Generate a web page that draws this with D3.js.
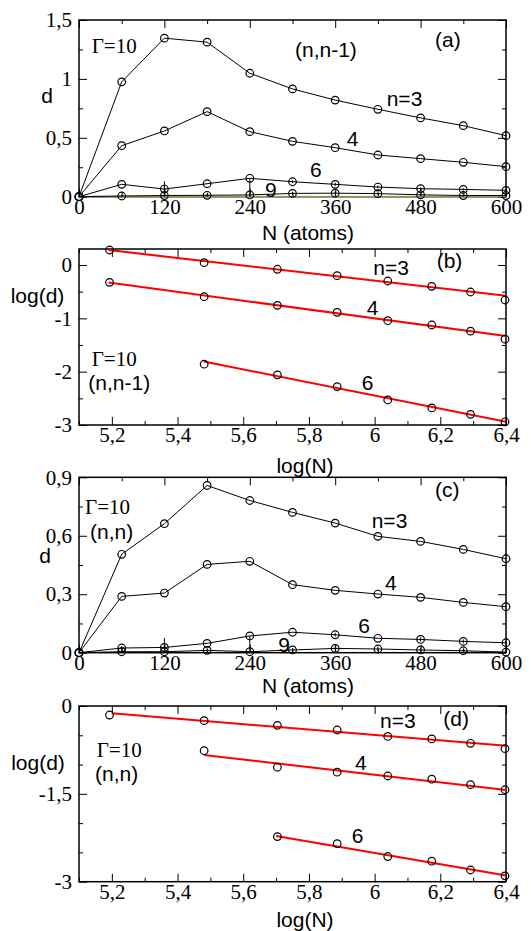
<!DOCTYPE html>
<html>
<head>
<meta charset="utf-8">
<script src="https://cdn.jsdelivr.net/npm/d3@7"></script>
<style>
  body { margin: 0; background: #fff; }
</style>
</head>
<body>
<script>
// data
const N = [0, 60, 120, 180, 240, 300, 360, 420, 480, 540, 600];

// panel (a) : (n,n-1)
const a3 = [0, 0.975, 1.346, 1.312, 1.048, 0.915, 0.82, 0.742, 0.669, 0.603, 0.518];
const a4 = [0, 0.433, 0.558, 0.722, 0.552, 0.47, 0.416, 0.354, 0.323, 0.292, 0.255];
const a6 = [0, 0.105, 0.065, 0.11, 0.156, 0.127, 0.105, 0.082, 0.068, 0.062, 0.054];
const a6err = [0, 0, 0.008, 0, 0, 0.012, 0.014, 0.012, 0.012, 0.01, 0.01];
const a9 = [0, 0.006, 0.01, 0.012, 0.015, 0.028, 0.03, 0.026, 0.016, 0.01, 0.01];
const a9err = [0, 0.01, 0.12, 0.012, 0.14, 0.014, 0.014, 0.012, 0.012, 0.01, 0.01];
const a12 = [0, 0, 0, 0, 0, 0, 0, 0, 0, 0, 0];

// panel (c) : (n,n)
const c3 = [0, 0.505, 0.662, 0.858, 0.781, 0.72, 0.665, 0.597, 0.571, 0.53, 0.482];
const c4 = [0, 0.289, 0.306, 0.453, 0.469, 0.349, 0.32, 0.301, 0.284, 0.258, 0.236];
const c6 = [0, 0.024, 0.027, 0.048, 0.086, 0.105, 0.092, 0.074, 0.068, 0.058, 0.051];
const c6err = [0, 0.01, 0.01, 0, 0, 0, 0.01, 0, 0.01, 0.01, 0.01];
const c9 = [0, 0.005, 0.005, 0.012, 0.005, 0.014, 0.022, 0.019, 0.014, 0.01, 0.003];
const c9err = [0, 0.01, 0.07, 0.01, 0.08, 0.01, 0.012, 0.012, 0.012, 0.012, 0.01];

// panels (b) and (d) : log(d) vs log(N)
const lnN = [5.193, 5.481, 5.704, 5.886, 6.040, 6.174, 6.292, 6.397];
const b3 = [0.281, 0.044, -0.08, -0.2, -0.3, -0.4, -0.506, -0.656];
const b4 = [-0.325, -0.594, -0.757, -0.888, -1.044, -1.125, -1.24, -1.39];
const b6 = [null, -1.86, -2.06, -2.28, -2.53, -2.68, -2.80, -2.94];
const fitB3 = [[5.19, 0.28], [6.4, -0.575]];
const fitB4 = [[5.19, -0.33], [6.4, -1.33]];
const fitB6 = [[5.48, -1.81], [6.4, -2.94]];

const d3v = [-0.154, -0.25, -0.33, -0.41, -0.52, -0.563, -0.637, -0.728];
const d4v = [null, -0.763, -1.046, -1.13, -1.195, -1.25, -1.343, -1.43];
const d6v = [null, null, -2.23, -2.35, -2.57, -2.65, -2.80, -2.90];
const fitD3 = [[5.2, -0.125], [6.4, -0.677]];
const fitD4 = [[5.48, -0.836], [6.4, -1.433]];
const fitD6 = [[5.70, -2.22], [6.4, -2.896]];

// ticks
const nMajor = [0, 120, 240, 360, 480, 600];
const nMinor = [60, 180, 300, 420, 540];
const logNMajor = [5.2, 5.4, 5.6, 5.8, 6, 6.2, 6.4];
const logNMinor = [5.1, 5.3, 5.5, 5.7, 5.9, 6.1, 6.3];

const width = 531;
const height = 931;
const left = 79, right = 506;

const svg = d3.select("body").append("svg")
    .attr("width", width)
    .attr("height", height);

svg.append("rect").attr("width", width).attr("height", height).attr("fill", "#fff");

const serif = "'Liberation Serif', 'Times New Roman', serif";
const sans = "'Liberation Sans', Arial, sans-serif";
const fmt = d => String(d).replace(".", ",");

function panel(cfg) {
    const x = d3.scaleLinear().domain(cfg.xDomain).range([left, right]);
    const y = d3.scaleLinear().domain(cfg.yDomain).range([cfg.bottom, cfg.top]);
    const g = svg.append("g");

    // ticks, all pointing inwards, on four sides
    const axes = [
        [d3.axisBottom(x).tickValues(cfg.xMajor).tickFormat(fmt).tickSize(-8).tickPadding(2), cfg.bottom, "x"],
        [d3.axisBottom(x).tickValues(cfg.xMinor).tickFormat("").tickSize(-4), cfg.bottom, "x"],
        [d3.axisTop(x).tickValues(cfg.xMajor).tickFormat("").tickSize(-8), cfg.top, "x"],
        [d3.axisTop(x).tickValues(cfg.xMinor).tickFormat("").tickSize(-4), cfg.top, "x"],
        [d3.axisLeft(y).tickValues(cfg.yMajor).tickFormat(fmt).tickSize(-8).tickPadding(7), left, "y"],
        [d3.axisLeft(y).tickValues(cfg.yMinor).tickFormat("").tickSize(-4), left, "y"],
        [d3.axisRight(y).tickValues(cfg.yMajor).tickFormat("").tickSize(-8), right, "y"],
        [d3.axisRight(y).tickValues(cfg.yMinor).tickFormat("").tickSize(-4), right, "y"]
    ];
    axes.forEach(([ax, pos, dir]) => {
        const ag = g.append("g")
            .attr("transform", dir === "x" ? "translate(0," + pos + ")" : "translate(" + pos + ",0)")
            .call(ax.tickSizeOuter(0));
        ag.select(".domain").remove();
        ag.selectAll("line").attr("stroke", "#000").attr("stroke-width", 1);
        ag.selectAll("text")
            .attr("fill", "#000")
            .style("font-family", serif)
            .style("font-size", "21px");
    });

    // frame
    g.append("rect")
        .attr("x", left).attr("y", cfg.top)
        .attr("width", right - left).attr("height", cfg.bottom - cfg.top)
        .attr("fill", "none").attr("stroke", "#000").attr("stroke-width", 1.5);

    return { x, y, g };
}

function series(p, xs, ys, errs, color) {
    const pts = xs.map((v, i) => ({ x: v, y: ys[i], e: errs ? errs[i] : 0 })).filter(d => d.y !== null);
    const line = d3.line().x(d => p.x(d.x)).y(d => p.y(d.y));
    p.g.append("path").datum(pts)
        .attr("d", line).attr("fill", "none")
        .attr("stroke", color || "#000").attr("stroke-width", 1);
    if (errs) {
        p.g.selectAll(null).data(pts.filter(d => d.e > 0)).enter().append("line")
            .attr("x1", d => p.x(d.x)).attr("x2", d => p.x(d.x))
            .attr("y1", d => p.y(d.y + d.e)).attr("y2", d => p.y(Math.max(0, d.y - d.e)))
            .attr("stroke", "#000").attr("stroke-width", 1);
    }
    return pts;
}

function markers(p, pts) {
    p.g.selectAll(null).data(pts).enter().append("circle")
        .attr("cx", d => p.x(d.x)).attr("cy", d => p.y(d.y)).attr("r", 3.8)
        .attr("fill", "none").attr("stroke", "#000").attr("stroke-width", 1.2);
}

function fit(p, seg) {
    p.g.append("path").datum(seg)
        .attr("d", d3.line().x(d => p.x(d[0])).y(d => p.y(d[1])))
        .attr("fill", "none").attr("stroke", "#ff0000").attr("stroke-width", 2);
}

function label(x, y, txt, font, anchor) {
    svg.append("text").attr("x", x).attr("y", y)
        .style("font-family", font).style("font-size", "21px")
        .attr("text-anchor", anchor || "start")
        .text(txt);
}

// (a)
const pa = panel({ xDomain: [0, 600], yDomain: [0, 1.5], top: 20, bottom: 196.7,
    xMajor: nMajor, xMinor: nMinor, yMajor: [0, 0.5, 1, 1.5], yMinor: [0.25, 0.75, 1.25] });
series(pa, N, a12, null, "#b8b860");
const pa9 = series(pa, N, a9, a9err);
const pa6 = series(pa, N, a6, a6err);
const pa4 = series(pa, N, a4);
const pa3 = series(pa, N, a3);
[pa9, pa6, pa4, pa3].forEach(s => markers(pa, s));

// (b)
const pb = panel({ xDomain: [5.1, 6.4], yDomain: [-3, 0.3], top: 249, bottom: 425,
    xMajor: logNMajor, xMinor: logNMinor, yMajor: [0, -1, -2, -3], yMinor: [-0.5, -1.5, -2.5] });
[fitB3, fitB4, fitB6].forEach(s => fit(pb, s));
[b3, b4, b6].forEach(ys => markers(pb, lnN.map((v, i) => ({ x: v, y: ys[i] })).filter(d => d.y !== null)));

// (c)
const pc = panel({ xDomain: [0, 600], yDomain: [0, 0.9], top: 477.3, bottom: 652.7,
    xMajor: nMajor, xMinor: nMinor, yMajor: [0, 0.3, 0.6, 0.9], yMinor: [0.15, 0.45, 0.75] });
const pc9 = series(pc, N, c9, c9err);
const pc6 = series(pc, N, c6, c6err);
const pc4 = series(pc, N, c4);
const pc3 = series(pc, N, c3);
[pc9, pc6, pc4, pc3].forEach(s => markers(pc, s));

// (d)
const pd = panel({ xDomain: [5.1, 6.4], yDomain: [-3, 0], top: 706, bottom: 881.7,
    xMajor: logNMajor, xMinor: logNMinor, yMajor: [0, -1.5, -3], yMinor: [-0.5, -1, -2, -2.5] });
[fitD3, fitD4, fitD6].forEach(s => fit(pd, s));
[d3v, d4v, d6v].forEach(ys => markers(pd, lnN.map((v, i) => ({ x: v, y: ys[i] })).filter(d => d.y !== null)));

// texts
label(91.7, 53, "Γ=10", serif);
label(295, 57, "(n,n-1)", sans);
label(435, 47, "(a)", sans);
label(386.7, 106, "n=3", sans);
label(346.7, 145.7, "4", sans);
label(310, 176.7, "6", sans);
label(265, 196.7, "9", sans);
label(47, 103.3, "d", sans, "middle");
label(308, 240, "N (atoms)", sans, "middle");

label(373.3, 275, "n=3", sans);
label(436.7, 268, "(b)", sans);
label(366.7, 315, "4", sans);
label(361.7, 390, "6", sans);
label(91.7, 366, "Γ=10", serif);
label(88.3, 390, "(n,n-1)", sans);
label(37.5, 303, "log(d)", sans, "middle");
label(305, 473, "log(N)", sans, "middle");

label(85, 514, "Γ=10", serif);
label(90, 539, "(n,n)", sans);
label(435, 497, "(c)", sans);
label(371.7, 528.3, "n=3", sans);
label(385, 590, "4", sans);
label(358.3, 633.3, "6", sans);
label(278.3, 651.7, "9", sans);
label(45, 563.3, "d", sans, "middle");
label(308, 693, "N (atoms)", sans, "middle");

label(380, 728.3, "n=3", sans);
label(443.3, 726, "(d)", sans);
label(355, 770, "4", sans);
label(351.7, 843.3, "6", sans);
label(96.7, 757, "Γ=10", serif);
label(95, 781, "(n,n)", sans);
label(38, 770, "log(d)", sans, "middle");
label(305, 927, "log(N)", sans, "middle");
</script>
</body>
</html>
